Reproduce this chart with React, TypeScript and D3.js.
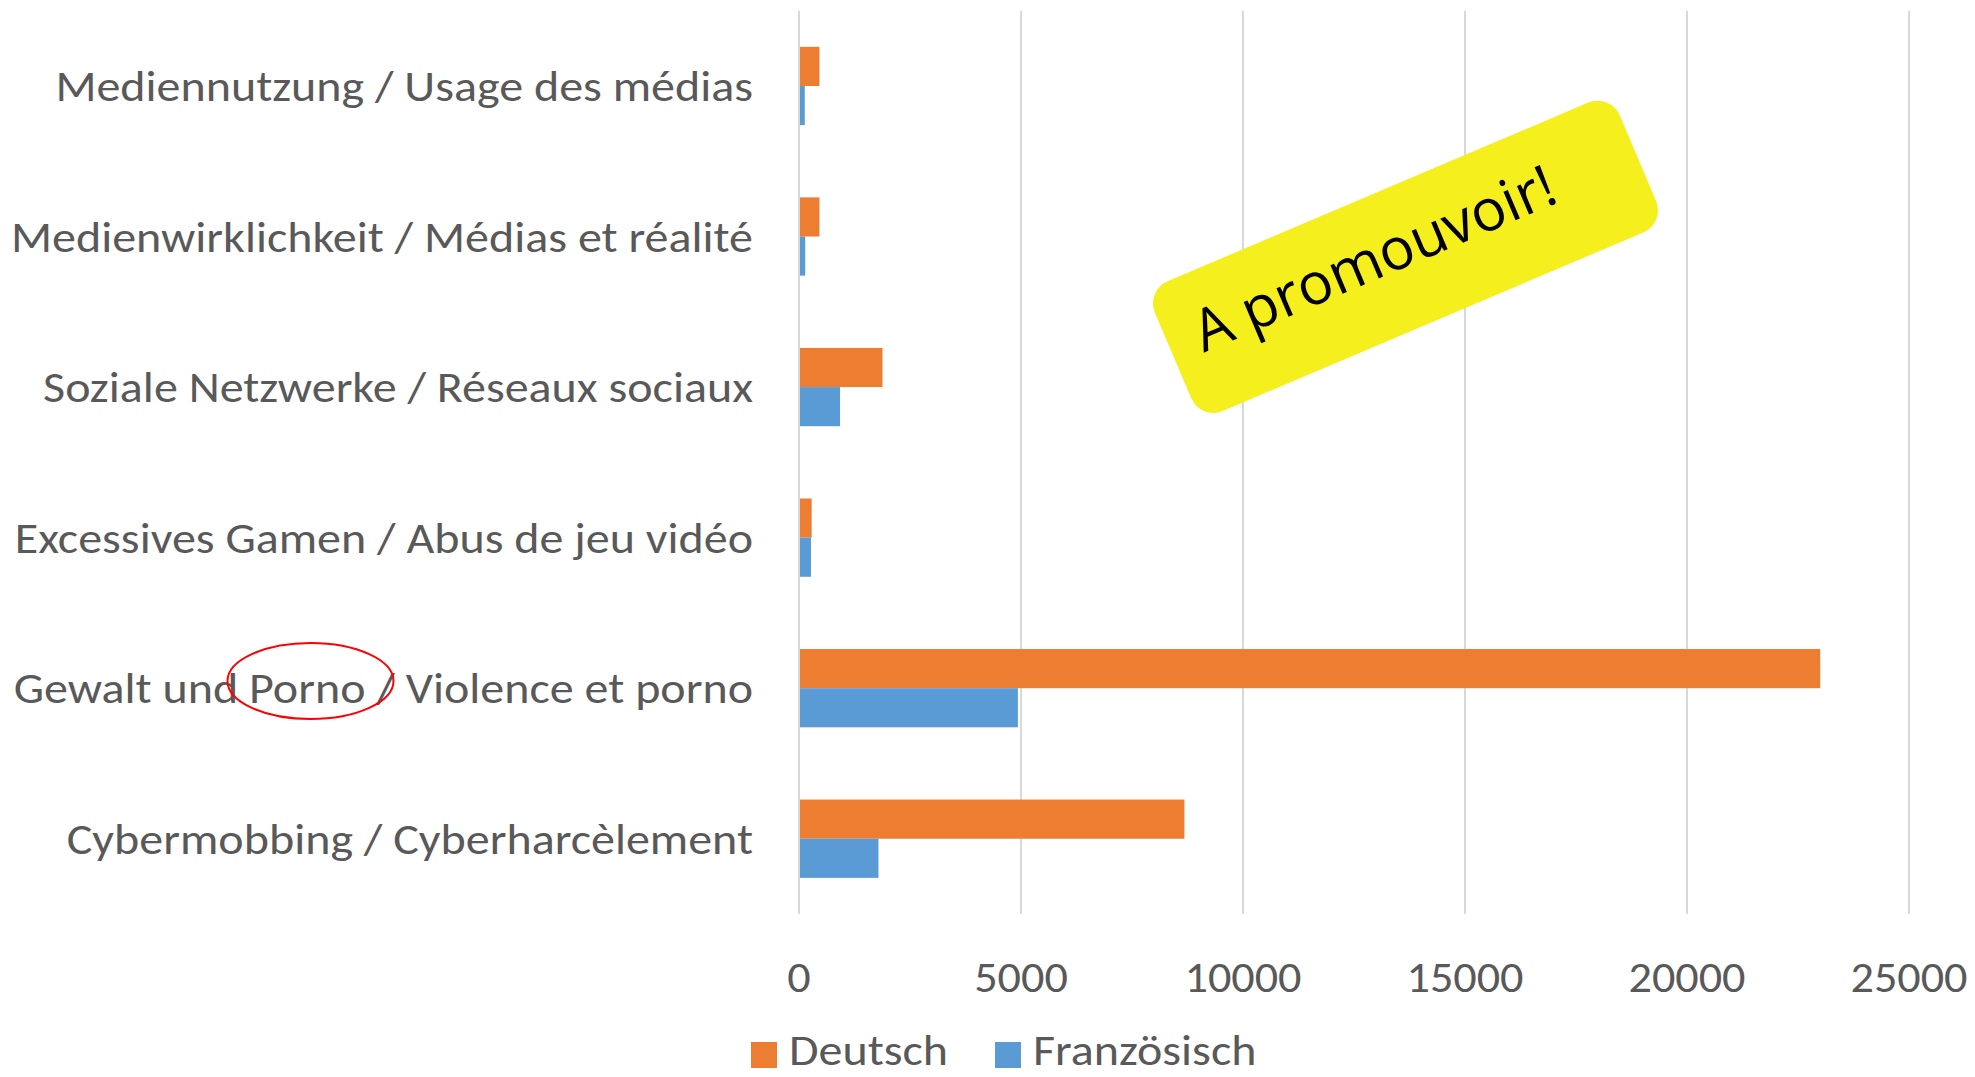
import React from "react";
import * as d3 from "d3";

const categories = [
  "Mediennutzung / Usage des médias",
  "Medienwirklichkeit / Médias et réalité",
  "Soziale Netzwerke / Réseaux sociaux",
  "Excessives Gamen / Abus de jeu vidéo",
  "Gewalt und Porno / Violence et porno",
  "Cybermobbing / Cyberharcèlement",
];
const deutsch = [460, 460, 1880, 285, 23000, 8680];
const franzoesisch = [130, 140, 925, 270, 4930, 1790];
const seriesNames = ["Deutsch", "Französisch"];
const seriesColors = ["#ED7D31", "#5B9BD5"];
const xTicks = [0, 5000, 10000, 15000, 20000, 25000];
const stickerText = "A promouvoir!";

const W = 1975;
const H = 1077;

export default function App() {
  const x = d3.scaleLinear().domain([0, 25000]).range([799, 1909]);
  const y = d3
    .scaleBand<string>()
    .domain(categories)
    .range([10.7, 914])
    .paddingInner(0.48)
    .paddingOuter(0.24);
  const sub = d3
    .scaleBand<string>()
    .domain(seriesNames)
    .range([0, y.bandwidth()]);
  const seriesValues = [deutsch, franzoesisch];
  const font = "Carlito, Lato, 'Open Sans', sans-serif";
  const textColor = "#595959";
  const stretch = 1.092;

  return (
    <svg
      width={W}
      height={H}
      style={{ position: "absolute", left: 0, top: 0, display: "block", background: "#fff" }}
    >
      {/* gridlines */}
      {xTicks.map((t) => (
        <line
          key={"g" + t}
          x1={x(t)}
          x2={x(t)}
          y1={10.7}
          y2={914}
          stroke="#D9D9D9"
          strokeWidth={2}
        />
      ))}
      {/* bars */}
      {categories.map((c, i) =>
        seriesNames.map((s, j) => (
          <rect
            key={c + s}
            x={x(0) + 1}
            y={(y(c) as number) + (sub(s) as number)}
            width={x(seriesValues[j][i]) - x(0) - 1}
            height={sub.bandwidth()}
            fill={seriesColors[j]}
          />
        ))
      )}
      {/* category labels */}
      {categories.map((c) => (
        <text
          key={"l" + c}
          transform={`translate(753,${(y(c) as number) + y.bandwidth() / 2 + 15}) scale(${stretch},1)`}
          textAnchor="end"
          fontFamily={font}
          fontSize={44}
          fill={textColor}
        >
          {c}
        </text>
      ))}
      {/* tick labels */}
      {xTicks.map((t) => (
        <text
          key={"t" + t}
          transform={`translate(${x(t)},992) scale(1.05,1)`}
          textAnchor="middle"
          fontFamily={font}
          fontSize={44}
          fill={textColor}
        >
          {String(t)}
        </text>
      ))}
      {/* legend */}
      {seriesNames.map((s, j) => {
        const lx = j === 0 ? 751 : 995;
        return (
          <g key={"leg" + s}>
            <rect x={lx} y={1042} width={26} height={26} fill={seriesColors[j]} />
            <text
              transform={`translate(${lx + 38},1065) scale(${stretch},1)`}
              fontFamily={font}
              fontSize={44}
              fill={textColor}
            >
              {s}
            </text>
          </g>
        );
      })}
      {/* sticker */}
      <g transform="translate(1405.5,256.8) rotate(-23)">
        <rect x={-252.5} y={-70.5} width={505} height={141} rx={24} ry={24} fill="#F6EF1E" />
        <text
          x={-29.5}
          y={9.5}
          textAnchor="middle"
          fontFamily="'Open Sans', sans-serif"
          fontSize={58}
          fill="#000"
        >
          {stickerText}
        </text>
      </g>
      {/* red ellipse */}
      <ellipse cx={310.5} cy={681} rx={83} ry={38} fill="none" stroke="#FF0000" strokeWidth={2} />
    </svg>
  );
}
